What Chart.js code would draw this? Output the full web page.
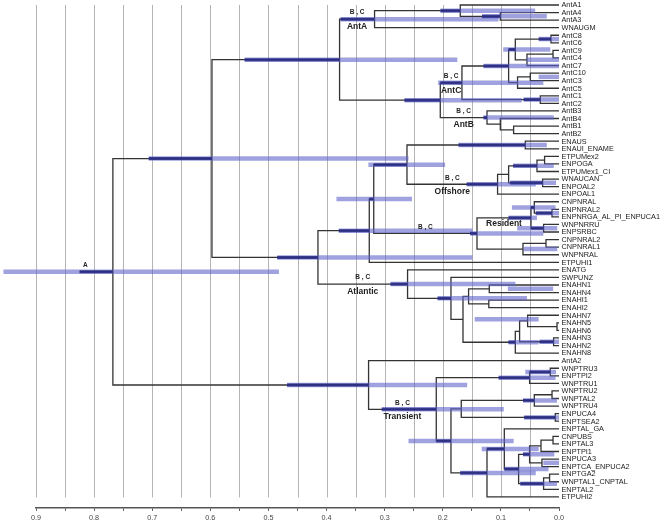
<!DOCTYPE html>
<html>
<head>
<meta charset="utf-8">
<script src="https://cdn.jsdelivr.net/npm/chart.js@4.4.1/dist/chart.umd.min.js"></script>
<style>
  html, body { margin: 0; padding: 0; background: #fff; }
  #tree { display: block; }
</style>
</head>
<body>
<canvas id="tree" width="661" height="526"></canvas>
<script>
// Hojas del árbol, de arriba a abajo
const leafNames = [
  "AntA1", "AntA4", "AntA3", "WNAUGM", "AntC8", "AntC6", "AntC9", "AntC4", "AntC7",
  "AntC10", "AntC3", "AntC5", "AntC1", "AntC2", "AntB3", "AntB4", "AntB1", "AntB2",
  "ENAUS", "ENAUI_ENAME", "ETPUMex2", "ENPOGA", "ETPUMex1_CI", "WNAUCAN", "ENPOAL2",
  "ENPOAL1", "CNPNRAL", "ENPNRAL2", "ENPNRGA_AL_PI_ENPUCA1", "WNPNRRU", "ENPSRBC",
  "CNPNRAL2", "CNPNRAL1", "WNPNRAL", "ETPUHI1", "ENATG", "SWPUNZ", "ENAHN1", "ENAHN4",
  "ENAHI1", "ENAHI2", "ENAHN7", "ENAHN5", "ENAHN6", "ENAHN3", "ENAHN2", "ENAHN8",
  "AntA2", "WNPTRU3", "ENPTPI2", "WNPTRU1", "WNPTRU2", "WNPTAL2", "WNPTRU4", "ENPUCA4",
  "ENPTSEA2", "ENPTAL_GA", "CNPUBS", "ENPTAL3", "ENPTPI1", "ENPUCA3", "ENPTCA_ENPUCA2",
  "ENPTGA2", "WNPTAL1_CNPTAL", "ENPTAL2", "ETPUHI2"
];

// Nodos internos: [id, hijo1, hijo2, edad]
const nodes = [
  ["root", "N1", "T0", 0.7677],
  ["N1", "Ant", "N2", 0.5972],
  ["Ant", "AntA", "AntCB", 0.3776],
  ["AntA", "nA1", "WNAUGM", 0.3174],
  ["nA1", "AntA1", "nA43", 0.1699],
  ["nA43", "AntA4", "AntA3", 0.1010],
  ["AntCB", "AntC", "AntB", 0.2043],
  ["AntC", "cX", "cC12", 0.1670],
  ["cX", "cY", "cC1035", 0.0867],
  ["cY", "cC86", "cC947", 0.0752],
  ["cC86", "AntC8", "AntC6", 0.0138],
  ["cC947", "cC94", "AntC7", 0.0551],
  ["cC94", "AntC9", "AntC4", 0.0103],
  ["cC1035", "cC103", "AntC5", 0.0713],
  ["cC103", "AntC10", "AntC3", 0.0494],
  ["cC12", "AntC1", "AntC2", 0.0322],
  ["AntB", "AntB3", "bB412", 0.1239],
  ["bB412", "AntB4", "bB12", 0.1010],
  ["bB12", "AntB1", "AntB2", 0.0781],
  ["N2", "P1", "Atl", 0.4148],
  ["P1", "P2", "ETPUHI1", 0.3265],
  ["P2", "O1", "Res", 0.3188],
  ["O1", "oAus", "Off", 0.2616],
  ["oAus", "ENAUS", "ENAUI_ENAME", 0.0580],
  ["Off", "O2", "ENPOAL1", 0.1057],
  ["O2", "oMex", "oCan", 0.0867],
  ["oMex", "oMex2", "ETPUMex1_CI", 0.0379],
  ["oMex2", "ETPUMex2", "ENPOGA", 0.0248],
  ["oCan", "WNAUCAN", "ENPOAL2", 0.0282],
  ["Res", "R1", "R2", 0.1411],
  ["R1", "R1a", "R1b", 0.0482],
  ["R1a", "CNPNRAL", "R1a2", 0.0425],
  ["R1a2", "ENPNRAL2", "ENPNRGA_AL_PI_ENPUCA1", 0.0120],
  ["R1b", "WNPNRRU", "ENPSRBC", 0.0265],
  ["R2", "R2a", "WNPNRAL", 0.0620],
  ["R2a", "CNPNRAL2", "CNPNRAL1", 0.0224],
  ["Atl", "ENATG", "A1", 0.2606],
  ["A1", "SWPUNZ", "A2", 0.1859],
  ["A2", "A3", "A4", 0.1652],
  ["A3", "A3a", "A3b", 0.1556],
  ["A3a", "ENAHN1", "ENAHN4", 0.1200],
  ["A3b", "ENAHI1", "ENAHI2", 0.1208],
  ["A4", "A5", "ENAHN8", 0.0752],
  ["A5", "A6", "A7", 0.0678],
  ["A6", "ENAHN7", "A6b", 0.0540],
  ["A6b", "ENAHN5", "ENAHN6", 0.0034],
  ["A7", "ENAHN3", "ENAHN2", 0.0093],
  ["T0", "AntA2", "T1", 0.3277],
  ["T1", "Tw", "T2", 0.2112],
  ["Tw", "Tw2", "WNPTRU1", 0.0506],
  ["Tw2", "WNPTRU3", "ENPTPI2", 0.0150],
  ["T2", "T3", "T4", 0.1859],
  ["T3", "T3a", "T3b", 0.1682],
  ["T3a", "T3a2", "WNPTRU4", 0.0425],
  ["T3a2", "WNPTRU2", "WNPTAL2", 0.0120],
  ["T3b", "ENPUCA4", "ENPTSEA2", 0.0064],
  ["T4", "T5", "ETPUHI2", 0.1239],
  ["T5", "ENPTAL_GA", "T6", 0.0941],
  ["T6", "T7", "T8", 0.0695],
  ["T7", "T7a", "T7b", 0.0506],
  ["T7a", "T7a2", "ENPTPI1", 0.0310],
  ["T7a2", "CNPUBS", "ENPTAL3", 0.0103],
  ["T7b", "ENPUCA3", "ENPTCA_ENPUCA2", 0.0293],
  ["T8", "T8a", "ENPTAL2", 0.0265],
  ["T8a", "ENPTGA2", "WNPTAL1_CNPTAL", 0.0162]
];
const rootStubAge = 0.825;

// Intervalos (barras azules): [nodo, extremo antiguo, extremo reciente]
const hpd = [
  ["root", 0.956, 0.482], ["N1", 0.706, 0.259], ["Ant", 0.541, 0.175],
  ["AntA", 0.376, 0.104], ["nA1", 0.204, 0.041], ["nA43", 0.1325, 0.021],
  ["AntCB", 0.266, 0.064], ["AntC", 0.208, 0.027], ["cX", 0.130, 0.0],
  ["cY", 0.096, 0.015], ["cC86", 0.035, 0.0], ["cC947", 0.056, 0.0],
  ["cC103", 0.035, 0.0], ["cC12", 0.061, 0.0], ["AntB", 0.130, 0.009],
  ["N2", 0.485, 0.149], ["P1", 0.379, 0.149], ["P2", 0.383, 0.253],
  ["O1", 0.328, 0.196], ["oAus", 0.173, 0.021], ["Off", 0.159, 0.040],
  ["oMex", 0.079, 0.009], ["oCan", 0.084, 0.005], ["Res", 0.153, 0.027],
  ["R1a", 0.081, 0.006], ["R1a2", 0.040, 0.0], ["R1", 0.087, 0.038],
  ["R1b", 0.072, 0.003], ["R2", 0.061, 0.003], ["Atl", 0.290, 0.075],
  ["A1", 0.209, 0.055], ["A3a", 0.088, 0.010], ["A2", 0.145, 0.035],
  ["A4", 0.087, 0.035], ["A7", 0.0335, 0.0], ["T0", 0.468, 0.158],
  ["T1", 0.305, 0.095], ["Tw", 0.104, 0.006], ["Tw2", 0.058, 0.005],
  ["T3a", 0.062, 0.0035], ["T3b", 0.060, 0.0], ["T2", 0.259, 0.078],
  ["T4", 0.170, 0.040], ["T5", 0.133, 0.035], ["T7", 0.062, 0.008],
  ["T7b", 0.027, 0.0], ["T6", 0.094, 0.018], ["T8", 0.0666, 0.0035]
];

// Etiquetas de clados: [nodo, texto superior, texto inferior]
const cladeLabels = [
  ["root", "A", ""], ["AntA", "B , C", "AntA"], ["AntC", "B , C", "AntC"],
  ["AntB", "B , C", "AntB"], ["Off", "B , C", "Offshore"], ["Res", "B , C", "Resident"],
  ["Atl", "B , C", "Atlantic"], ["T1", "B , C", "Transient"]
];

const axisMax = 0.9;
const axisStep = 0.05;

// Posiciones: y de cada nodo = media de sus hijos
const yOf = {}, ageOf = {}, parentAge = {};
leafNames.forEach((n, i) => { yOf[n] = i; ageOf[n] = 0; });
const nodeMap = {};
nodes.forEach(r => { nodeMap[r[0]] = r; ageOf[r[0]] = r[3]; });
function place(id) {
  if (yOf[id] !== undefined) return yOf[id];
  const [, a, b, age] = nodeMap[id];
  parentAge[a] = age;
  parentAge[b] = age;
  yOf[id] = (place(a) + place(b)) / 2;
  return yOf[id];
}
place("root");
parentAge["root"] = rootStubAge;

const datasets = [];
const lineStyle = { showLine: true, pointRadius: 0, tension: 0, clip: false, fill: false };

nodes.forEach(([id, a, b, age]) => {
  datasets.push(Object.assign({
    data: [
      { x: ageOf[a], y: yOf[a] }, { x: age, y: yOf[a] },
      { x: age, y: yOf[b] }, { x: ageOf[b], y: yOf[b] }
    ],
    borderColor: "#333", borderWidth: 1.3, order: 3
  }, lineStyle));
});
datasets.push(Object.assign({
  data: [{ x: rootStubAge, y: yOf.root }, { x: ageOf.root, y: yOf.root }],
  borderColor: "#333", borderWidth: 1.3, order: 3
}, lineStyle));

hpd.forEach(([id, old, young]) => {
  const y = yOf[id];
  datasets.push(Object.assign({
    data: [{ x: old, y: y }, { x: young, y: y }],
    borderColor: "rgba(95,100,200,0.6)", borderWidth: 4.5, order: 2
  }, lineStyle));
  // parte oscura: donde la barra cae sobre la rama que llega al nodo
  const lo = Math.max(young, ageOf[id]);
  const hi = Math.min(old, parentAge[id]);
  if (hi > lo) {
    datasets.push(Object.assign({
      data: [{ x: hi, y: y }, { x: lo, y: y }],
      borderColor: "rgba(35,38,125,0.8)", borderWidth: 3, order: 1
    }, lineStyle));
  }
});

const treePlugin = {
  id: "treeDecor",
  beforeDatasetsDraw(chart) {
    const { ctx, scales: { x, y } } = chart;
    ctx.save();
    ctx.strokeStyle = "rgba(150,150,150,0.7)";
    ctx.lineWidth = 1;
    const top = y.getPixelForValue(0), bottom = y.getPixelForValue(leafNames.length - 1) + 0.5;
    for (let k = 1; k * axisStep <= axisMax + 1e-9; k++) {
      const px = Math.round(x.getPixelForValue(k * axisStep)) + 0.5;
      ctx.beginPath();
      ctx.moveTo(px, top);
      ctx.lineTo(px, bottom);
      ctx.stroke();
    }
    ctx.restore();
  },
  afterDatasetsDraw(chart) {
    const { ctx, scales: { x, y } } = chart;
    ctx.save();
    ctx.fillStyle = "#222";
    ctx.textBaseline = "middle";
    ctx.textAlign = "left";
    ctx.font = '7.3px "Liberation Sans", Arial, sans-serif';
    const x0 = x.getPixelForValue(0) + 2.5;
    leafNames.forEach((n, i) => ctx.fillText(n, x0, y.getPixelForValue(i) + 0.3));

    ctx.textAlign = "center";
    cladeLabels.forEach(([id, topText, bottomText]) => {
      const mid = (parentAge[id] + ageOf[id]) / 2;
      let px = x.getPixelForValue(mid);
      const py = y.getPixelForValue(yOf[id]);
      if (id === "root") px -= 11;
      ctx.font = 'bold 6.5px "Liberation Sans", Arial, sans-serif';
      ctx.fillText(topText, px, py - 6.5);
      if (bottomText) {
        ctx.font = 'bold 8.5px "Liberation Sans", Arial, sans-serif';
        if (id === "Res") {
          ctx.fillText(bottomText, x.getPixelForValue(ageOf[id]) + 27, py - 10);
        } else {
          ctx.fillText(bottomText, px, py + 7.5);
        }
      }
    });
    ctx.restore();
  }
};

new Chart(document.getElementById("tree").getContext("2d"), {
  type: "scatter",
  data: { datasets: datasets },
  plugins: [treePlugin],
  options: {
    responsive: false,
    animation: false,
    events: [],
    devicePixelRatio: 1,
    layout: { padding: { left: 36, right: 102, top: 5, bottom: 0.5 } },
    plugins: { legend: { display: false }, tooltip: { enabled: false } },
    scales: {
      x: {
        type: "linear",
        reverse: true,
        min: 0,
        max: axisMax,
        border: { display: true, color: "#555", width: 1.5 },
        grid: { drawOnChartArea: false, drawTicks: true, tickLength: 3, color: "#555" },
        ticks: {
          stepSize: axisStep,
          padding: 3,
          color: "#444",
          font: { size: 7.2, family: '"Liberation Sans", Arial, sans-serif' },
          maxRotation: 0,
          autoSkip: false,
          callback: v => (Math.round(v * 100) % 10 === 0 ? v.toFixed(1) : "")
        }
      },
      y: {
        type: "linear",
        display: false,
        reverse: true,
        min: 0,
        max: 66.45
      }
    }
  }
});
</script>
</body>
</html>
